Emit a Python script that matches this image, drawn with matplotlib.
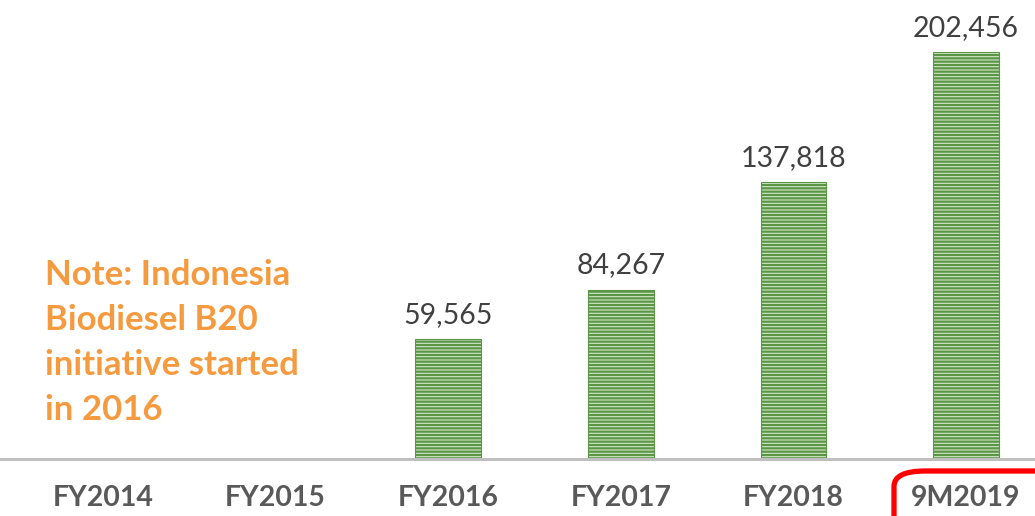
import numpy as np
import matplotlib
matplotlib.use("Agg")
import matplotlib.pyplot as plt
from matplotlib.patches import FancyBboxPatch

categories = ["FY2014", "FY2015", "FY2016", "FY2017", "FY2018", "9M2019"]
values = [np.nan, np.nan, 59565, 84267, 137818, 202456]
note = "Note: Indonesia\nBiodiesel B20\ninitiative started\nin 2016"

plt.rcParams['font.family'] = ['Lato', 'DejaVu Sans']
plt.rcParams['hatch.linewidth'] = 1.6

W, H = 1035, 516
fig = plt.figure(figsize=(W / 100, H / 100), dpi=100)
ax = fig.add_axes([0, 57 / H, 1, 1 - 57 / H])

x = np.arange(len(categories))
vals = np.nan_to_num(values)
bars = ax.bar(x, vals, width=0.38, color='#d3e7c9', edgecolor='#5a9646',
              linewidth=0.8, hatch='-----')

for xi, v in zip(x, values):
    if np.isnan(v):
        continue
    ax.annotate(f"{int(v):,}", (xi, v), xytext=(0, 8), textcoords='offset points',
                ha='center', va='bottom', fontsize=20.5, color='#404040')

ax.set_xlim(-0.597, 5.40)
ax.set_ylim(0, 228320)
ax.set_yticks([])
ax.set_xticks(x)
ax.set_xticklabels(categories, fontsize=20.5, fontweight='bold', color='#595959')
ax.tick_params(axis='x', length=0, pad=19)
for s in ['top', 'right', 'left']:
    ax.spines[s].set_visible(False)
ax.spines['bottom'].set_color('#bfbfbf')
ax.spines['bottom'].set_linewidth(2.2)

fig.text(45 / W, 1 - 259 / H, note, ha='left', va='top', fontsize=25,
         fontweight='bold', color='#f59a3e', linespacing=1.5)

box = FancyBboxPatch((894 / W, -30 / H), 200 / W, (516 - 471 + 30) / H,
                     boxstyle="round,pad=0,rounding_size=0.03",
                     transform=fig.transFigure, fill=False, edgecolor='#ff0000',
                     linewidth=3.8, clip_on=False)
fig.patches.append(box)

fig.savefig("out.png", dpi=100)
